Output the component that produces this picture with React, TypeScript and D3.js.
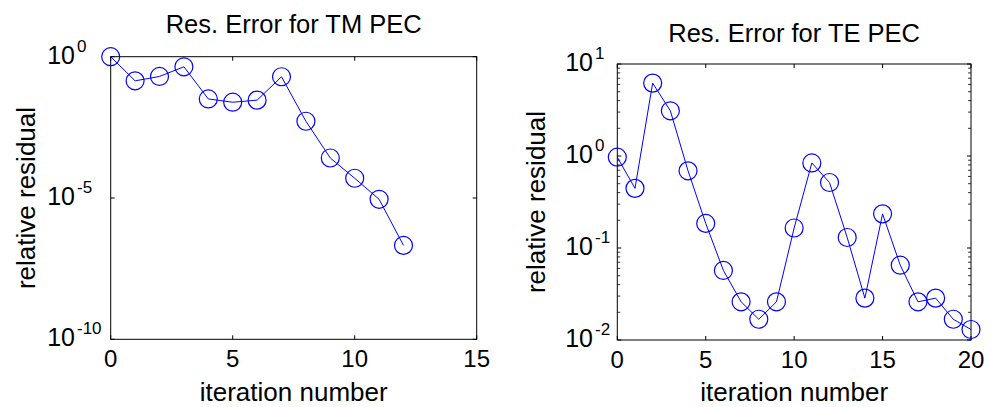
import React from "react";
import * as d3 from "d3";

const tmIterations = [0, 1, 2, 3, 4, 5, 6, 7, 8, 9, 10, 11, 12];
const tmResidual = [1, 0.14, 0.2, 0.44, 0.032, 0.0245, 0.029, 0.195, 0.0052, 2.6e-4, 5.0e-5, 9.0e-6, 2.1e-7];

const teIterations = [0, 1, 2, 3, 4, 5, 6, 7, 8, 9, 10, 11, 12, 13, 14, 15, 16, 17, 18, 19, 20];
const teResidual = [0.97, 0.445, 6.2, 3.1, 0.69, 0.185, 0.057, 0.026, 0.0168, 0.026, 0.165, 0.84, 0.515, 0.13, 0.0285, 0.235, 0.065, 0.026, 0.0285, 0.0168, 0.013];

const tmXTicks = [0, 5, 10, 15];
const tmYExponents = [0, -5, -10];
const teXTicks = [0, 5, 10, 15, 20];
const teYExponents = [1, 0, -1, -2];

const FONT = "'Liberation Sans', Arial, Helvetica, sans-serif";
const BLUE = "#0000ff";

type PanelProps = {
  title: string;
  xs: number[];
  ys: number[];
  xDomain: [number, number];
  yExp: number[];
  xTicks: number[];
  left: number;
  right: number;
  top: number;
  bottom: number;
  minor: boolean;
  labelGap: number;
  titleY: number;
  yLabelX: number;
};

function Panel(p: PanelProps) {
  const x = d3.scaleLinear().domain(p.xDomain).range([p.left, p.right]);
  const yMin = Math.pow(10, d3.min(p.yExp)!);
  const yMax = Math.pow(10, d3.max(p.yExp)!);
  const y = d3.scaleLog().domain([yMin, yMax]).range([p.bottom, p.top]);
  const line = d3
    .line<number>()
    .x((_, i) => x(p.xs[i]))
    .y((d) => y(d));
  const majorLen = 4;
  const minorLen = 3;
  const minorTicks: number[] = [];
  if (p.minor) {
    const lo = d3.min(p.yExp)!;
    const hi = d3.max(p.yExp)!;
    for (let e = lo; e < hi; e++) {
      for (let m = 2; m <= 9; m++) minorTicks.push(m * Math.pow(10, e));
    }
  }
  const cx = (p.left + p.right) / 2;
  const cy = (p.top + p.bottom) / 2;
  return (
    <g>
      <rect x={p.left} y={p.top} width={p.right - p.left} height={p.bottom - p.top} fill="#fff" stroke="none" />
      {p.xTicks.map((t) => (
        <g key={"xt" + t}>
          <line x1={x(t)} x2={x(t)} y1={p.bottom} y2={p.bottom - majorLen} stroke="#000" />
          <line x1={x(t)} x2={x(t)} y1={p.top} y2={p.top + majorLen} stroke="#000" />
          <text x={x(t)} y={p.bottom + 28} textAnchor="middle" fontSize={24} fontFamily={FONT}>
            {t}
          </text>
        </g>
      ))}
      {minorTicks.map((t, i) => (
        <g key={"mt" + i}>
          <line x1={p.left} x2={p.left + minorLen} y1={y(t)} y2={y(t)} stroke="#000" strokeWidth={0.8} />
          <line x1={p.right} x2={p.right - minorLen} y1={y(t)} y2={y(t)} stroke="#000" strokeWidth={0.8} />
        </g>
      ))}
      {p.yExp.map((e) => {
        const yy = y(Math.pow(10, e));
        return (
          <g key={"yt" + e}>
            <line x1={p.left} x2={p.left + majorLen} y1={yy} y2={yy} stroke="#000" />
            <line x1={p.right} x2={p.right - majorLen} y1={yy} y2={yy} stroke="#000" />
            <text x={p.left - p.labelGap} y={yy + 7} textAnchor="end" fontSize={25} fontFamily={FONT}>
              10
            </text>
            <text x={p.left - p.labelGap + 2} y={yy - 5} textAnchor="start" fontSize={17} fontFamily={FONT}>
              {e < 0 ? "-" + Math.abs(e) : String(e)}
            </text>
          </g>
        );
      })}
      <rect x={p.left} y={p.top} width={p.right - p.left} height={p.bottom - p.top} fill="none" stroke="#000" strokeWidth={1} />
      <path d={line(p.ys) || ""} fill="none" stroke={BLUE} strokeWidth={1} />
      {p.ys.map((v, i) => (
        <circle key={"c" + i} cx={x(p.xs[i])} cy={y(v)} r={9} fill="none" stroke={BLUE} strokeWidth={1.2} />
      ))}
      <text x={cx} y={p.titleY} textAnchor="middle" fontSize={25.5} fontFamily={FONT}>
        {p.title}
      </text>
      <text x={cx} y={401} textAnchor="middle" fontSize={26} fontFamily={FONT}>
        iteration number
      </text>
      <text
        transform={`translate(${p.yLabelX},${cy}) rotate(-90)`}
        textAnchor="middle"
        fontSize={26}
        fontFamily={FONT}
      >
        relative residual
      </text>
    </g>
  );
}

export default function App() {
  return (
    <svg
      width={991}
      height={407}
      style={{ position: "fixed", left: 0, top: 0, background: "#fff" }}
    >
      <rect x={0} y={0} width={991} height={407} fill="#fff" />
      <Panel
        title="Res. Error for TM PEC"
        xs={tmIterations}
        ys={tmResidual}
        xDomain={[0, 15]}
        yExp={tmYExponents}
        xTicks={tmXTicks}
        left={110.7}
        right={476.7}
        top={56.7}
        bottom={339.3}
        minor={false}
        labelGap={35.7}
        titleY={33}
        yLabelX={35}
      />
      <Panel
        title="Res. Error for TE PEC"
        xs={teIterations}
        ys={teResidual}
        xDomain={[0, 20]}
        yExp={teYExponents}
        xTicks={teXTicks}
        left={617.3}
        right={971}
        top={64}
        bottom={340}
        minor={true}
        labelGap={24.3}
        titleY={41.5}
        yLabelX={545}
      />
    </svg>
  );
}
